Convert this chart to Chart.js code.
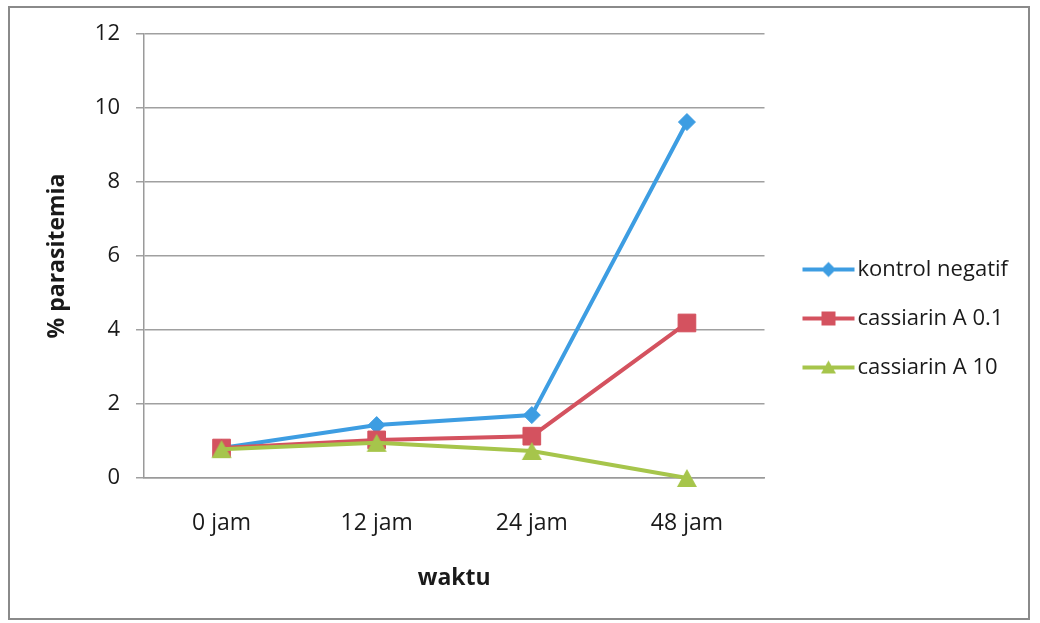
<!DOCTYPE html>
<html>
<head>
<meta charset="utf-8">
<script src="https://cdn.jsdelivr.net/npm/chart.js@4/dist/chart.umd.min.js"></script>
<style>
  html, body { margin: 0; padding: 0; background: #ffffff; }
  #wrap { position: relative; width: 1040px; height: 623px; }
  #frame { position: absolute; left: 8px; top: 6px; width: 1022px; height: 614px;
           border: 2px solid #8a8a8a; box-sizing: border-box; pointer-events: none; }
  canvas { position: absolute; left: 0; top: 0; }
</style>
</head>
<body>
<div id="wrap">
  <canvas id="c" width="1040" height="623"></canvas>
  <div id="frame"></div>
</div>
<script>
// Time points and % parasitemia per treatment group
const categories = ['0 jam', '12 jam', '24 jam', '48 jam'];
const kontrolNegatif = [0.81, 1.43, 1.70, 9.62];
const cassiarin01 = [0.81, 1.03, 1.13, 4.19];
const cassiarin10 = [0.78, 0.95, 0.73, 0.0];
const seriesNames = ['kontrol negatif', 'cassiarin A 0.1', 'cassiarin A 10'];
const yTicks = [0, 2, 4, 6, 8, 10, 12];

const BLUE = '#3d9de2';
const RED = '#d4525f';
const GREEN = '#a6c54b';
const FONT = '"Open Sans", sans-serif';
const TEXT = '#1a1a1a';

// Triangle marker centred in its own box (apex and base equally far from the point)
function triangleMarker(color, w, h) {
  const c = document.createElement('canvas');
  c.width = w + 2; c.height = h + 2;
  const g = c.getContext('2d');
  g.fillStyle = color;
  g.beginPath();
  g.moveTo(c.width / 2, 1); g.lineTo(c.width - 1, h + 1); g.lineTo(1, h + 1);
  g.closePath(); g.fill();
  return c;
}

// Legend symbol: short line with the series marker in the middle
function legendSymbol(color, style) {
  const c = document.createElement('canvas');
  c.width = 80; c.height = 20;
  const g = c.getContext('2d');
  const cx = 49.5, cy = 10;
  g.strokeStyle = color; g.lineWidth = 4;
  g.beginPath(); g.moveTo(23.5, cy); g.lineTo(75.5, cy); g.stroke();
  g.fillStyle = color;
  g.beginPath();
  if (style === 'rectRot') {
    g.moveTo(cx - 7.5, cy); g.lineTo(cx, cy - 7.5); g.lineTo(cx + 7.5, cy); g.lineTo(cx, cy + 7.5);
  } else if (style === 'rect') {
    g.rect(cx - 7, cy - 7, 14, 14);
  } else {
    g.moveTo(cx, cy - 7); g.lineTo(cx + 7.5, cy + 6); g.lineTo(cx - 7.5, cy + 6);
  }
  g.closePath(); g.fill();
  return c;
}

const markerStyles = ['rectRot', 'rect', triangleMarker(GREEN, 20, 18)];
const legendStyles = ['rectRot', 'rect', 'triangle'];
const colors = [BLUE, RED, GREEN];
const symbols = colors.map((col, i) => legendSymbol(col, legendStyles[i]));

function series(i, data, radius, order) {
  return {
    label: seriesNames[i],
    data: data,
    order: order,
    clip: false,
    borderColor: colors[i],
    backgroundColor: colors[i],
    borderWidth: 4,
    pointStyle: markerStyles[i],
    pointRadius: radius,
    pointHoverRadius: radius,
    pointBackgroundColor: colors[i],
    pointBorderColor: colors[i],
    pointBorderWidth: 1,
    tension: 0
  };
}

// Give the legend box a little spare room on the right so its text is never cut
const legendRoom = {
  id: 'legendRoom',
  afterLayout(chart) {
    const l = chart.legend;
    if (l) { l.right += 12; l.width += 12; }
  }
};

new Chart(document.getElementById('c'), {
  type: 'line',
  data: {
    labels: categories,
    datasets: [
      series(0, kontrolNegatif, 8.5, 2),
      series(1, cassiarin01, 12.5, 1),
      series(2, cassiarin10, 10, 0)
    ]
  },
  plugins: [legendRoom],
  options: {
    responsive: false,
    animation: false,
    layout: { padding: { left: 40, top: 34, right: 34, bottom: 20 } },
    plugins: {
      tooltip: { enabled: false },
      legend: {
        position: 'right',
        labels: {
          usePointStyle: true,
          pointStyleWidth: 55,
          padding: 27,
          color: TEXT,
          font: { family: FONT, size: 22 },
          generateLabels: (chart) => chart.data.datasets.map((d, i) => ({
            text: d.label,
            pointStyle: symbols[i],
            fillStyle: colors[i],
            strokeStyle: colors[i],
            lineWidth: 0,
            hidden: false,
            datasetIndex: i,
            fontColor: TEXT
          }))
        }
      }
    },
    scales: {
      x: {
        offset: true,
        grid: { display: false, drawTicks: false },
        border: { display: true, color: '#9a9a9a', width: 1.5 },
        ticks: { padding: 32, color: TEXT, font: { family: FONT, size: 23 } },
        title: { display: true, text: 'waktu', color: TEXT,
                 font: { family: FONT, size: 23, weight: 'bold' }, padding: { top: 4, bottom: 11 } },
        afterFit: (s) => { s.height = 125; }
      },
      y: {
        min: 0, max: 12,
        afterBuildTicks: (s) => { s.ticks = yTicks.map(v => ({ value: v })); },
        grid: { color: '#a0a0a0', lineWidth: 1.5, drawTicks: true, tickLength: 8 },
        border: { display: true, color: '#9a9a9a', width: 1.5 },
        ticks: { padding: 16, color: TEXT, font: { family: FONT, size: 22 } },
        title: { display: true, text: '% parasitemia', color: TEXT,
                 font: { family: FONT, size: 23, weight: 'bold' }, padding: { top: 4, bottom: 4 } },
        afterFit: (s) => { s.width = 104; }
      }
    }
  }
});
</script>
</body>
</html>
